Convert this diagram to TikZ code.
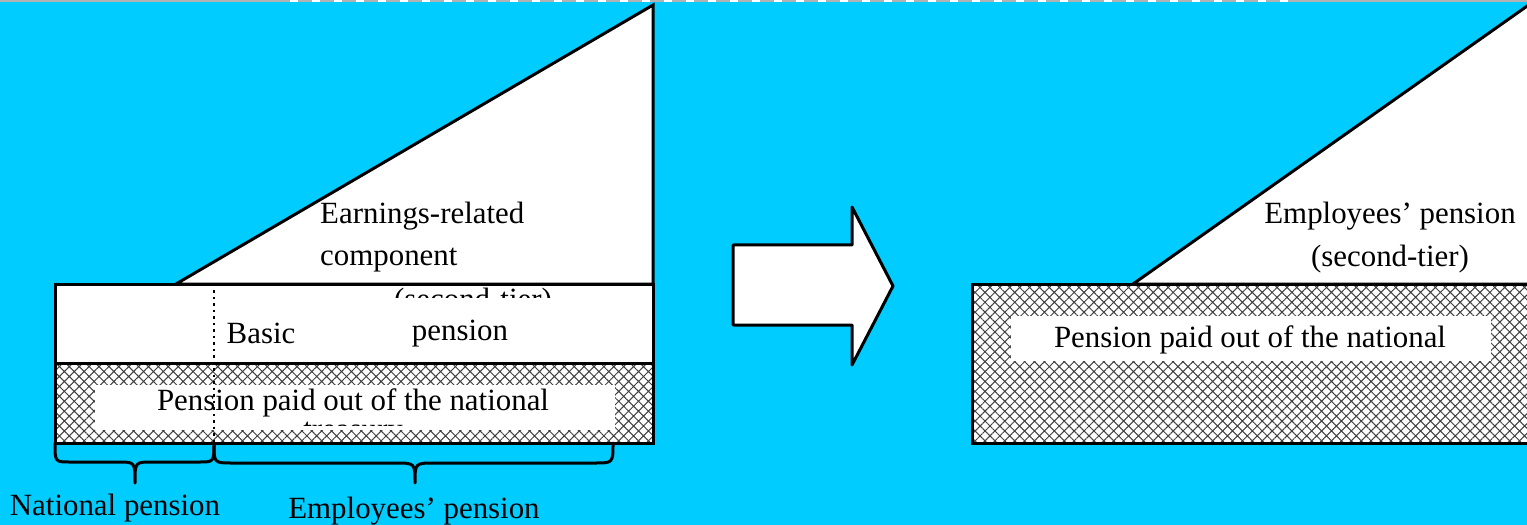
\documentclass[tikz,border=0pt]{standalone}
\usepackage{fontspec}
\setmainfont{Liberation Serif}
\usetikzlibrary{patterns.meta}
\definecolor{bg}{HTML}{00CCFF}
\begin{document}
\begin{tikzpicture}[x=1bp,y=-1bp,
  outline/.style={draw=black,line width=3bp,line join=miter},
  hatchfill/.style={pattern={Hatch[angle=45,distance=7bp,line width=1bp]},pattern color=black!75},
  lbl/.style={font=\fontsize{31}{44}\selectfont,inner sep=0pt},
  bracepath/.style={draw=black,line width=3bp,line cap=round,line join=round}]
\useasboundingbox (0,0) rectangle (1527,525);
\clip (0,0) rectangle (1527,525);
\fill[bg] (0,0) rectangle (1527,525);
\fill[gray!60] (0,0) rectangle (1527,2.5);
\draw[white,line width=2bp,dash pattern=on 8bp off 14bp] (290,1) -- (1290,1);
% ---------- left diagram ----------
\filldraw[fill=white,outline] (176,284) -- (653,5) -- (653,284) -- cycle;
\node[lbl,anchor=west] (earn) at (320,216) {Earnings-related};
\node[lbl,anchor=west] (comp) at (320,260) {component};
\filldraw[fill=white,outline] (55,284) rectangle (653,363);
\begin{scope}
  \clip (55,286) rectangle (653,297);
  \node[lbl] (tier1) at (473,302) {(second-tier)};
\end{scope}
\node[lbl] (basic) at (261,333) {Basic};
\node[lbl] (pens) at (460,334) {pension};
\fill[white] (55,363) rectangle (653,443);
\fill[hatchfill] (55,363) rectangle (653,443);
\fill[white] (95,385) rectangle (615,430);
\node[lbl] (paid1) at (353,403) {Pension paid out of the national};
\begin{scope}
  \clip (95,385) rectangle (615,425);
  \node[lbl] (treas) at (353,434) {treasury};
\end{scope}
\draw[outline] (55,363) rectangle (653,443);
\draw[line width=2.5bp,dash pattern=on 2.5bp off 4bp] (214,290) -- (214,443);
% braces
\coordinate (b1a) at (55,443);
\coordinate (b1b) at (214,443);
\coordinate (b2b) at (613,443);
\draw[bracepath] (b1a) .. controls (55,462) .. (70,462) -- (118,462) .. controls (135,462) .. (135,483) .. controls (135,462) .. (152,462) -- (199,462) .. controls (214,462) .. (b1b);
\draw[bracepath] (b1b) .. controls (214,463) .. (232,463) -- (395,463) .. controls (415,463) .. (415,483) .. controls (415,463) .. (435,463) -- (595,463) .. controls (613,463) .. (b2b);
\node[lbl] (natp) at (115,508) {National pension};
\node[lbl] (empp) at (414,511) {Employees’ pension};
% ---------- arrow ----------
\filldraw[fill=white,outline,line join=round] (733,245) -- (852,245) -- (852,207) -- (893,286) -- (852,365) -- (852,325) -- (733,325) -- cycle;
% ---------- right diagram ----------
\filldraw[fill=white,outline] (1133,284) -- (1540,-3) -- (1540,284) -- cycle;
\node[lbl] (emp2) at (1390,216) {Employees’ pension};
\node[lbl] (tier2) at (1390,259) {(second-tier)};
\fill[white] (972,284) rectangle (1545,443);
\fill[hatchfill] (972,284) rectangle (1545,443);
\fill[white] (1011,316) rectangle (1491,361);
\node[lbl] (paid2) at (1250,340) {Pension paid out of the national};
\draw[outline] (1545,284) -- (972,284) -- (972,443) -- (1545,443);
\end{tikzpicture}
\end{document}
